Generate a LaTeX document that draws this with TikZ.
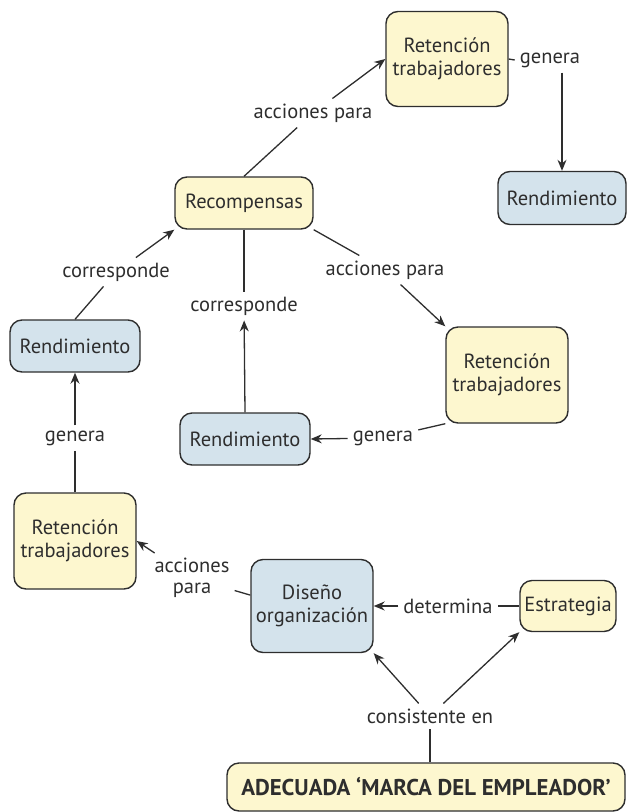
\documentclass[tikz,border=0pt]{standalone}
\usepackage{fontspec}
\setmainfont{PT Sans}
\usetikzlibrary{arrows.meta}
\definecolor{boxyel}{HTML}{FDF7CF}
\definecolor{boxblu}{HTML}{D4E3EC}
\definecolor{ink}{HTML}{2E2E2E}
\begin{document}
\begin{tikzpicture}[x=1pt,y=-1pt,line join=round,>={Stealth[length=11pt,width=9pt]},
	font=\fontsize{20.5}{23.5}\selectfont,text=ink,
	card/.style={draw=ink,line width=1.4pt,rounded corners=12pt,align=center,inner sep=0pt},
	yel/.style={card,fill=boxyel},
	blu/.style={card,fill=boxblu},
	lbl/.style={inner sep=5pt,align=center},
	con/.style={draw=ink,line width=1.3pt},
	arr/.style={con,->}]
			\useasboundingbox (0,0) rectangle (627,812);
			\node[yel,minimum width=122pt,minimum height=95pt] (rt1) at (447,59) {Retención\\trabajadores};
			\node[blu,minimum width=128pt,minimum height=53pt] (rend1) at (562,198) {Rendimiento};
			\node[yel,minimum width=138pt,minimum height=52pt] (rec) at (244,203) {Recompensas};
			\node[blu,minimum width=130pt,minimum height=52pt] (rend2) at (75,346) {Rendimiento};
			\node[blu,minimum width=130pt,minimum height=52pt] (rend3) at (245,439) {Rendimiento};
			\node[yel,minimum width=122pt,minimum height=96pt] (rt2) at (507,375) {Retención\\trabajadores};
			\node[yel,minimum width=122pt,minimum height=96pt] (rt3) at (75,541) {Retención\\trabajadores};
			\node[blu,minimum width=122pt,minimum height=93pt] (dis) at (312,606) {Diseño\\organización};
			\node[yel,minimum width=96pt,minimum height=51pt] (est) at (568,606) {Estrategia};
			\node[yel,minimum width=398pt,minimum height=48pt,font=\fontsize{22.8}{24}\selectfont\bfseries] (adec) at (426,787) {ADECUADA ‘MARCA DEL EMPLEADOR’};
			\node[lbl] (acc1) at (313,113) {acciones para};
			\node[lbl] (gen1) at (550,60) {genera};
			\node[lbl] (corr1) at (116,272) {corresponde};
			\node[lbl] (corr2) at (244,306) {corresponde};
			\node[lbl] (acc2) at (385,270) {acciones para};
			\node[lbl] (gen2) at (383,438) {genera};
			\node[lbl] (gen3) at (75,438) {genera};
			\node[lbl,font=\fontsize{20.5}{21}\selectfont] (acc3) at (192,578) {acciones\\para};
			\node[lbl] (det) at (448,606) {determina};
			\node[lbl] (cons) at (430,716) {consistente en};
			\draw[con] (rec.north) -- (acc1);
			\draw[arr] (acc1) -- (rt1.west);
			\draw[con] (rt1.east) -- (gen1.west);
			\draw[arr] (gen1.south -| rend1.north) -- (rend1.north);
			\draw[con] (rend2.north) -- (corr1);
			\draw[arr] (corr1) -- (rec.south west);
			\draw[con] (rec.south) -- (corr2);
			\draw[arr] (rend3.north) -- (corr2);
			\draw[con] (rec.south east) -- (acc2);
			\draw[arr] (acc2) -- (rt2.north west);
			\draw[con] (rt2.south west) -- (gen2);
			\draw[arr] (gen2) -- (rend3.east);
			\draw[con] (rt3.north) -- (gen3);
			\draw[arr] (gen3) -- (rend2.south);
			\draw[con] (dis.170) -- (acc3);
			\draw[arr] (acc3) -- (rt3.east);
			\draw[con] (est.west) -- (det);
			\draw[arr] (det) -- (dis.east);
			\draw[con] (cons |- adec.north) -- (cons);
			\draw[arr] (cons) -- (dis.south east);
			\draw[arr] (cons) -- (est.south west);
			\end{tikzpicture}
\end{document}
